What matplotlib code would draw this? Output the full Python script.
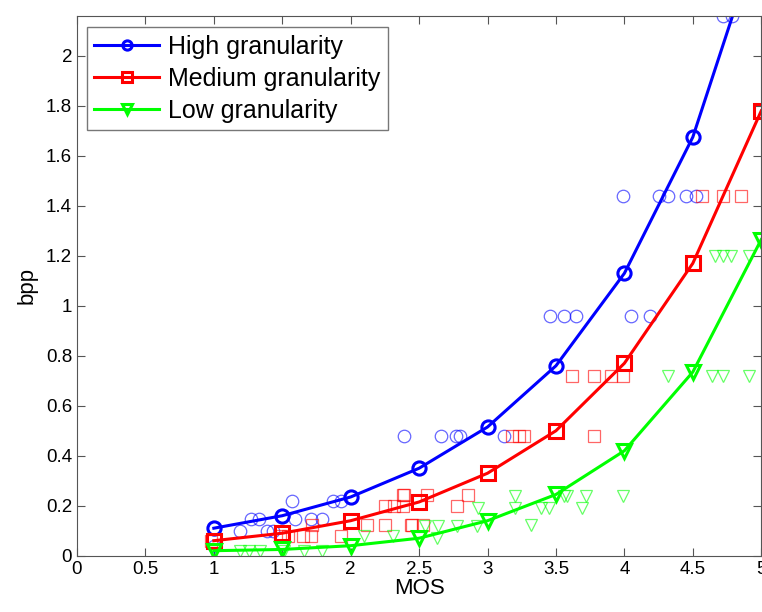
import numpy as np
import matplotlib.pyplot as plt

plt.rcParams['font.family'] = ['Liberation Sans', 'DejaVu Sans']

# fitted curves (MOS -> bpp)
mos_fit = [1, 1.5, 2, 2.5, 3, 3.5, 4, 4.5, 5]
high_fit = [0.11, 0.16, 0.235, 0.35, 0.515, 0.76, 1.13, 1.675, 2.51]
med_fit = [0.06, 0.09, 0.14, 0.215, 0.33, 0.50, 0.77, 1.17, 1.78]
low_fit = [0.02, 0.025, 0.04, 0.07, 0.14, 0.245, 0.42, 0.735, 1.265]

# measured samples
high_x = [1.0, 1.19, 1.275, 1.33, 1.385, 1.43, 1.57, 1.59, 1.71, 1.79, 1.87, 1.93,
          2.39, 2.66, 2.77, 2.80, 3.12, 3.46, 3.56, 3.65, 4.05, 4.19,
          3.99, 4.25, 4.32, 4.45, 4.52, 4.72, 4.79]
high_y = [0.04, 0.097, 0.147, 0.147, 0.097, 0.097, 0.217, 0.147, 0.147, 0.147, 0.217, 0.217,
          0.48, 0.48, 0.48, 0.48, 0.48, 0.96, 0.96, 0.96, 0.96, 0.96,
          1.44, 1.44, 1.44, 1.44, 1.44, 2.16, 2.16]

med_x = [0.98, 1.48, 1.54, 1.65, 1.71, 1.72, 1.93, 2.12, 2.25, 2.25, 2.32, 2.38, 2.44,
         2.39, 2.38, 2.45, 2.53, 2.56, 2.78, 2.86, 3.18, 3.23, 3.27, 3.78,
         3.62, 3.78, 3.90, 3.99, 4.57, 4.72, 4.85]
med_y = [0.06, 0.077, 0.077, 0.077, 0.077, 0.124, 0.077, 0.124, 0.124, 0.197, 0.197, 0.244, 0.124,
         0.244, 0.197, 0.124, 0.124, 0.244, 0.197, 0.244, 0.48, 0.48, 0.48, 0.48,
         0.72, 0.72, 0.72, 0.72, 1.44, 1.44, 1.44]

low_x = [1.0, 1.19, 1.26, 1.34, 1.51, 1.66, 1.79, 2.10, 2.31,
         2.50, 2.63, 2.54, 2.64, 2.78, 2.92, 3.32, 2.93, 3.20, 3.39, 3.45, 3.69,
         3.20, 3.56, 3.58, 3.72, 3.99, 4.32, 4.64, 4.72, 4.91, 4.66, 4.72, 4.78, 4.91]
low_y = [0.02, 0.017, 0.017, 0.02, 0.017, 0.017, 0.017, 0.077, 0.077,
         0.072, 0.072, 0.12, 0.12, 0.12, 0.12, 0.124, 0.19, 0.19, 0.19, 0.19, 0.19,
         0.237, 0.237, 0.237, 0.237, 0.237, 0.72, 0.72, 0.72, 0.72, 1.2, 1.2, 1.2, 1.2]

series = [
    ("High granularity", high_fit, high_x, high_y, (0, 0, 1), 'o'),
    ("Medium granularity", med_fit, med_x, med_y, (1, 0, 0), 's'),
    ("Low granularity", low_fit, low_x, low_y, (0, 1, 0), 'v'),
]

fig = plt.figure(figsize=(7.62, 6.12), dpi=100)
ax = fig.add_axes([0.101, 0.092, 0.898, 0.882])

for label, fit, sx, sy, color, mk in series:
    ax.plot(sx, sy, linestyle='none', marker=mk, markersize=9, markerfacecolor='none',
            markeredgecolor=color, markeredgewidth=0.9, alpha=0.6)
for label, fit, sx, sy, color, mk in series:
    ax.plot(mos_fit, fit, color=color, linewidth=2.2, marker=mk, markersize=9.5,
            markerfacecolor='none', markeredgewidth=2.2, label=label)

ax.set_xlim(0, 5)
ax.set_ylim(0, 2.16)
ax.set_xticks(np.arange(0, 5.01, 0.5))
ax.set_xticklabels(['0', '0.5', '1', '1.5', '2', '2.5', '3', '3.5', '4', '4.5', '5'])
ax.set_yticks(np.arange(0, 2.01, 0.2))
ax.set_yticklabels(['0', '0.2', '0.4', '0.6', '0.8', '1', '1.2', '1.4', '1.6', '1.8', '2'])
ax.tick_params(direction='in', top=True, right=True, labelsize=13.5, length=6, color='#555555')
for s in ax.spines.values():
    s.set_color('#555555')
ax.set_xlabel("MOS", fontsize=16, labelpad=0)
ax.set_ylabel("bpp", fontsize=16, labelpad=6)

leg = ax.legend(loc='upper left', fontsize=18, handlelength=2.6, markerscale=0.7,
                fancybox=False, edgecolor='#555555', borderpad=0.3, labelspacing=0.32,
                handletextpad=0.35, borderaxespad=0.0, bbox_to_anchor=(0.0145, 0.979))
leg.get_frame().set_linewidth(1.0)

fig.savefig("out.png", dpi=100)
